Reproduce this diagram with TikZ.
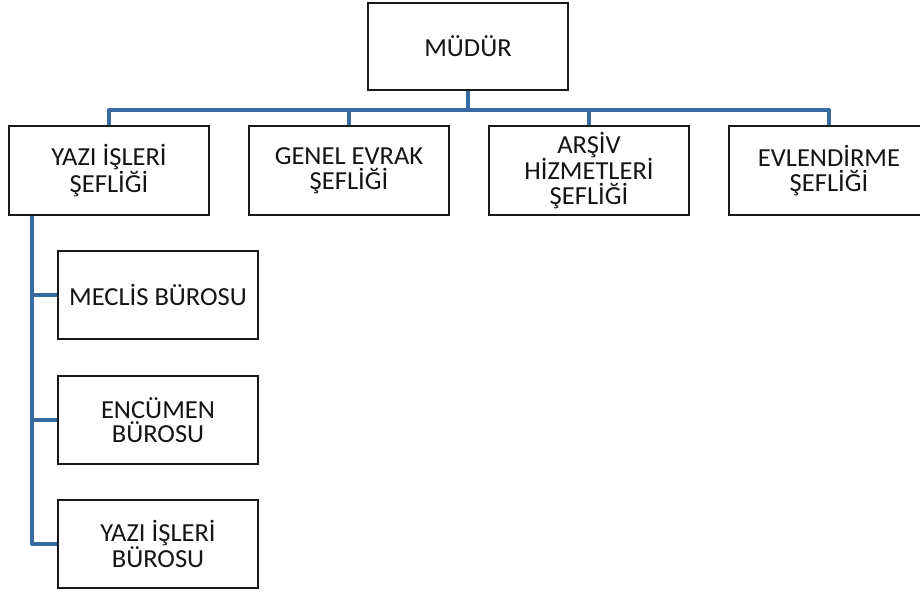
\documentclass[tikz,border=0pt]{standalone}
\usepackage{fontspec}
\setmainfont{Carlito}[FakeStretch=1.02]
\definecolor{linkblue}{RGB}{56,106,162}
\definecolor{boxline}{RGB}{25,25,25}
\begin{document}
\begin{tikzpicture}[x=1pt,y=-1pt,
  box/.style={draw=boxline,fill=white,line width=1.9pt,minimum width=200pt,minimum height=88pt,
    align=center,inner sep=0pt,font=\fontsize{26}{24.5}\selectfont,text=black!92},
  link/.style={draw=linkblue,line width=4pt,line join=round}]
\useasboundingbox (0,0) rectangle (920,592);
% nodes
\node[box,minimum height=87pt] (mudur) at (468,46.5) {MÜDÜR};
\node[box,minimum height=89pt] (y1) at (109,170.5) {YAZI İŞLERİ\\ŞEFLİĞİ};
\node[box,minimum height=89pt] (y2) at (349,170.5) {GENEL EVRAK\\ŞEFLİĞİ};
\node[box,minimum height=89pt] (y3) at (589,170.5) {ARŞİV\\HİZMETLERİ\\ŞEFLİĞİ};
\node[box,minimum height=89pt] (y4) at (829,170.5) {EVLENDİRME\\ŞEFLİĞİ};
\node[box] (b1) at (158,295) {MECLİS BÜROSU};
\node[box] (b2) at (158,420) {ENCÜMEN\\BÜROSU};
\node[box] (b3) at (158,544) {YAZI İŞLERİ\\BÜROSU};
% connectors
\coordinate (vtop) at ([xshift=24pt]y1.south west);
\draw[link] (mudur.south) -- ++(0,21);
\draw[link] (y1.north) -- ++(0,-15) -| (y4.north);
\draw[link] (y2.north) -- ++(0,-15);
\draw[link] (y3.north) -- ++(0,-15);
\draw[link] (vtop) |- (b3.west);
\draw[link] (b1.west) -- (b1.west -| vtop);
\draw[link] (b2.west) -- (b2.west -| vtop);
\end{tikzpicture}
\end{document}
